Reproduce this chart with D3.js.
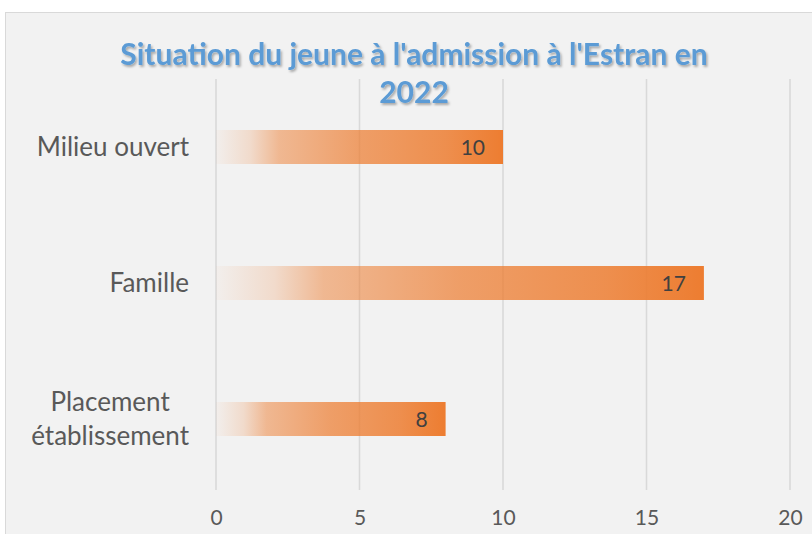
<!DOCTYPE html>
<html>
<head>
<meta charset="utf-8">
<script src="https://cdn.jsdelivr.net/npm/d3@7"></script>
<style>
  body { margin: 0; background: #ffffff; }
  svg { display: block; }
</style>
</head>
<body>
<div id="chart"></div>
<script>
// data
const categories = ["Milieu ouvert", "Famille", "Placement établissement"];
const values = [10, 17, 8];
const tickValues = [0, 5, 10, 15, 20];
const titleLines = ["Situation du jeune à l'admission à l'Estran en", "2022"];

const W = 812, H = 534;
const font = "Lato, 'Open Sans', sans-serif";

const svg = d3.select("#chart").append("svg")
    .attr("width", W)
    .attr("height", H);

// gradient + shadow
const defs = svg.append("defs");
const grad = defs.append("linearGradient")
    .attr("id", "barGrad")
    .attr("x1", "0%").attr("x2", "100%")
    .attr("y1", "0%").attr("y2", "0%");
[[0, 0.03], [0.12, 0.2], [0.22, 0.5], [0.5, 0.72], [0.8, 0.85], [1, 1]].forEach(s => {
    grad.append("stop")
        .attr("offset", s[0])
        .attr("stop-color", "#ed7d31")
        .attr("stop-opacity", s[1]);
});
defs.append("filter").attr("id", "shadow")
    .attr("x", "-10%").attr("y", "-30%").attr("width", "120%").attr("height", "160%")
  .append("feDropShadow")
    .attr("dx", 1.5).attr("dy", 2)
    .attr("stdDeviation", 1.2)
    .attr("flood-color", "#000")
    .attr("flood-opacity", 0.3);

// chart area
svg.append("rect")
    .attr("x", 5.5).attr("y", 12.5)
    .attr("width", W).attr("height", H)
    .attr("fill", "#f2f2f2")
    .attr("stroke", "#d9d9d9")
    .attr("stroke-width", 1);

// scales
const x = d3.scaleLinear().domain([0, 20]).range([216, 790]);
const y = d3.scaleBand().domain(categories).range([79, 487])
    .paddingInner(0.75).paddingOuter(0.375);

// gridlines
svg.append("g").selectAll("line")
    .data(tickValues)
    .join("line")
    .attr("x1", d => x(d)).attr("x2", d => x(d))
    .attr("y1", 79).attr("y2", 490)
    .attr("stroke", "#d9d9d9")
    .attr("stroke-width", 1.6);

// x axis labels
const xAxis = svg.append("g")
    .attr("transform", "translate(0,510)")
    .call(d3.axisBottom(x).tickValues(tickValues).tickSize(0).tickPadding(0));
xAxis.select(".domain").remove();
xAxis.selectAll("text")
    .attr("font-family", font)
    .attr("font-size", 21)
    .attr("fill", "#595959");

// bars
svg.append("g").selectAll("rect")
    .data(values)
    .join("rect")
    .attr("x", x(0))
    .attr("y", (d, i) => y(categories[i]))
    .attr("width", d => x(d) - x(0))
    .attr("height", y.bandwidth())
    .attr("fill", "url(#barGrad)");

// data labels
svg.append("g").selectAll("text")
    .data(values)
    .join("text")
    .attr("x", d => x(d) - 18)
    .attr("y", (d, i) => y(categories[i]) + y.bandwidth() / 2 + 8)
    .attr("text-anchor", "end")
    .attr("font-family", font)
    .attr("font-size", 21)
    .attr("fill", "#404040")
    .text(d => d);

// category labels
const catG = svg.append("g");
categories.forEach((c, i) => {
    const cy = y(c) + y.bandwidth() / 2;
    const lines = c === "Placement établissement" ? ["Placement", "établissement"] : [c];
    const t = catG.append("text")
        .attr("font-family", font)
        .attr("font-size", 26)
        .attr("fill", "#595959");
    lines.forEach((l, j) => {
        t.append("tspan")
            .attr("y", cy + 9 + (j - (lines.length - 1) / 2) * 34)
            .text(l);
    });
    // right-align block at 189, center lines within it
    const tspans = t.selectAll("tspan").nodes();
    const maxW = d3.max(tspans, n => n.getComputedTextLength());
    tspans.forEach(n => {
        d3.select(n).attr("x", 189 - maxW / 2).attr("text-anchor", "middle");
    });
});

// title
const title = svg.append("text")
    .attr("font-family", font)
    .attr("font-weight", "bold")
    .attr("font-size", 30)
    .attr("fill", "#5b9bd5")
    .attr("text-anchor", "middle")
    .attr("filter", "url(#shadow)");
titleLines.forEach((l, j) => {
    title.append("tspan")
        .attr("x", 414)
        .attr("y", 65 + j * 38)
        .text(l);
});
</script>
</body>
</html>
